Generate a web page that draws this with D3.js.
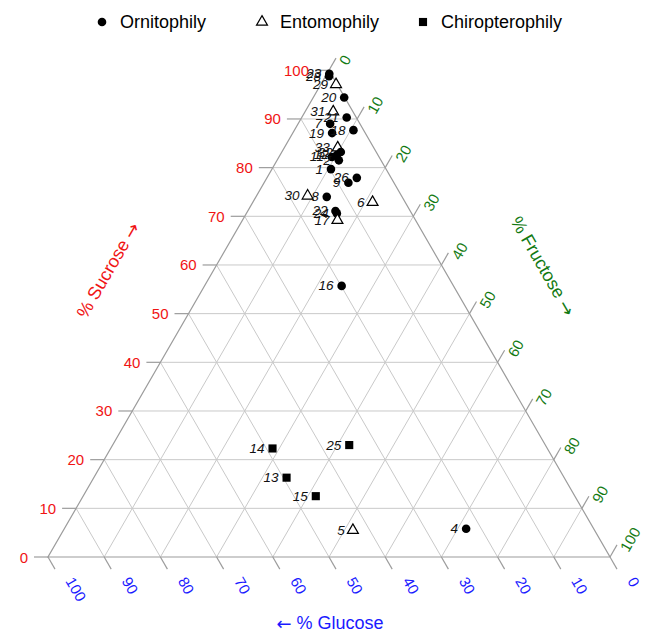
<!DOCTYPE html>
<html>
<head>
<meta charset="utf-8">
<script src="https://cdn.jsdelivr.net/npm/d3@7"></script>
<style>
  html, body { margin: 0; padding: 0; background: #fff; }
  svg { display: block; }
  text { font-family: "Liberation Sans", Arial, Helvetica, sans-serif; }
  .arrow { font-family: "DejaVu Sans", sans-serif; }
</style>
</head>
<body>
<svg id="chart" width="650" height="632"></svg>
<script>
// ---------------- DATA ----------------
const categories = ["Ornitophily", "Entomophily", "Chiropterophily"];

const ids =        ["23", "28", "29", "20", "31", "21", "7",  "18", "19", "33", "11", "12", "32", "2",  "1",  "26", "9",  "8",  "30", "6",  "22", "24", "17", "16", "14", "25", "13", "15", "5",  "4"];
const group =      [0,    0,    1,    0,    1,    0,    0,    0,    0,    1,    0,    0,    0,    0,    0,    0,    0,    0,    1,    1,    0,    0,    1,    0,    2,    2,    2,    2,    1,    0];
const sucrose =    [99.3, 98.8, 97.1, 94.4, 91.5, 90.3, 89.0, 87.7, 87.1, 84.1, 82.2, 82.6, 83.2, 81.5, 79.7, 77.9, 76.9, 74.0, 74.2, 72.9, 71.1, 70.6, 69.2, 55.7, 22.3, 23.0, 16.3, 12.5, 5.5,  5.8];
const fructose =   [0.4,  0.6,  2.7,  5.5,  5.0,  8.0,  5.7,  10.5, 7.0,  9.5,  9.4,  10.1, 10.5, 11.0, 10.5, 16.0, 15.0, 12.6, 9.1,  21.3, 15.6, 16.1, 16.9, 24.4, 28.8, 42.1, 34.3, 41.4, 51.5, 71.5];
const glucose =    sucrose.map((s, i) => +(100 - s - fructose[i]).toFixed(1));

const tickValues = [0, 10, 20, 30, 40, 50, 60, 70, 80, 90, 100];
const gridValues = [10, 20, 30, 40, 50, 60, 70, 80, 90];

// ---------------- LAYOUT ----------------
const svg = d3.select("#chart");
const xl = 48, xr = 610, yb = 557;
const side = xr - xl;
const th = side * Math.sqrt(3) / 2;

// horizontal position driven by (fructose + sucrose/2), vertical by sucrose
const px = d3.scaleLinear().domain([0, 100]).range([xl, xr]);
const py = d3.scaleLinear().domain([0, 100]).range([yb, yb - th]);
const pt = (s, f) => [px(f + s / 2), py(s)];

const colS = "#f01414", colF = "#137a13", colG = "#1a1aff";
const gridCol = "#c9c9c9", edgeCol = "#9c9c9c";

const line = d3.line();

// gridlines
const grid = svg.append("g").attr("fill", "none").attr("stroke", gridCol).attr("stroke-width", 1);
gridValues.forEach(v => {
  grid.append("path").attr("d", line([pt(v, 0), pt(v, 100 - v)]));          // constant sucrose
  grid.append("path").attr("d", line([pt(0, v), pt(100 - v, v)]));          // constant fructose
  grid.append("path").attr("d", line([pt(0, 100 - v), pt(100 - v, 0)]));    // constant glucose
});

// border
svg.append("path")
  .attr("d", line([pt(0, 0), pt(0, 100), pt(100, 0)]) + "Z")
  .attr("fill", "none").attr("stroke", edgeCol).attr("stroke-width", 1.2);

// ticks & labels
const ticks = svg.append("g").attr("stroke", edgeCol).attr("stroke-width", 1.2);
const tl = 14;
const cx60 = Math.cos(Math.PI / 3), sy60 = Math.sin(Math.PI / 3);

tickValues.forEach(v => {
  // Sucrose (left edge)
  let [x, y] = pt(v, 0);
  ticks.append("line").attr("x1", x - tl).attr("y1", y).attr("x2", x).attr("y2", y);
  svg.append("text").attr("x", x - 20).attr("y", y).attr("text-anchor", "end")
    .attr("dominant-baseline", "central").attr("fill", colS).attr("font-size", 15).text(v);

  // Fructose (right edge)
  [x, y] = pt(100 - v, v);
  ticks.append("line").attr("x1", x).attr("y1", y).attr("x2", x + tl * cx60).attr("y2", y - tl * sy60);
  svg.append("text").attr("transform", `translate(${x + 13.8},${y - 6.8}) rotate(-60)`)
    .attr("text-anchor", "start").attr("dominant-baseline", "central")
    .attr("fill", colF).attr("font-size", 15).text(v);

  // Glucose (bottom edge)
  [x, y] = pt(0, 100 - v);
  ticks.append("line").attr("x1", x).attr("y1", y).attr("x2", x + tl * cx60).attr("y2", y + tl * sy60);
  svg.append("text").attr("transform", `translate(${x + 21.8},${y + 21.3}) rotate(60)`)
    .attr("text-anchor", "start").attr("dominant-baseline", "central")
    .attr("fill", colG).attr("font-size", 15).text(v);
});

// axis titles
function title(transform, color, before, label, after) {
  const t = svg.append("text").attr("transform", transform)
    .attr("text-anchor", "middle").attr("dominant-baseline", "central")
    .attr("fill", color).attr("font-size", 18);
  if (before) t.append("tspan").attr("class", "arrow").text(before);
  t.append("tspan").text(label);
  if (after) t.append("tspan").attr("class", "arrow").text(after);
}
title("translate(108,270) rotate(-60)", colS, null, "% Sucrose ", "\u2192");
title("translate(543,266) rotate(60)", colF, null, "% Fructose ", "\u2192");
title("translate(330,623)", colG, "\u2190", " % Glucose", null);

// markers
const symTri = d3.symbol().type(d3.symbolTriangle).size(52);
const symSq = d3.symbol().type(d3.symbolSquare).size(66);
function drawMarker(g, k, x, y) {
  if (k === 0) {
    g.append("circle").attr("cx", x).attr("cy", y).attr("r", 4.3).attr("fill", "#000");
  } else if (k === 1) {
    g.append("path").attr("d", symTri()).attr("transform", `translate(${x},${y})`)
      .attr("fill", "#fff").attr("stroke", "#000").attr("stroke-width", 1.2);
  } else {
    g.append("path").attr("d", symSq()).attr("transform", `translate(${x},${y})`).attr("fill", "#000");
  }
}

const marks = svg.append("g");
const labels = svg.append("g");
ids.forEach((id, i) => {
  const [x, y] = pt(sucrose[i], fructose[i]);
  drawMarker(marks, group[i], x, y);
  labels.append("text").attr("x", x - 8).attr("y", y).attr("text-anchor", "end")
    .attr("dominant-baseline", "central").attr("font-style", "italic")
    .attr("font-size", 13.5).attr("fill", "#111").text(id);
});

// legend
const legX = [102, 262, 423];
const leg = svg.append("g");
categories.forEach((c, k) => {
  drawMarker(leg, k, legX[k], 22);
  leg.append("text").attr("x", legX[k] + 18).attr("y", 22)
    .attr("dominant-baseline", "central").attr("font-size", 18).attr("fill", "#000").text(c);
});
</script>
</body>
</html>
